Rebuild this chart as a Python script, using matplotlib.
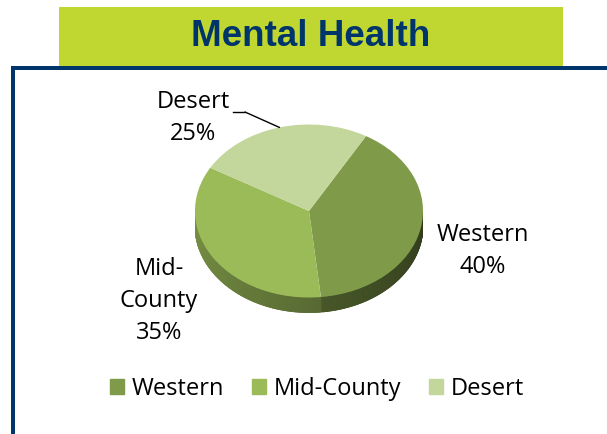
import numpy as np
import matplotlib
matplotlib.use('Agg')
import matplotlib.pyplot as plt
from matplotlib.patches import Rectangle, Patch
from matplotlib.collections import PolyCollection
from matplotlib.colors import to_rgb

# data
regions = ['Western', 'Mid-County', 'Desert']
shares = [40, 35, 25]
colors = ['#7f9a48', '#9bbb59', '#c3d69b']
title = 'Mental Health'

W, H = 607, 434
fig = plt.figure(figsize=(W / 100, H / 100), dpi=100)

# background axes in pixel coords (y down)
bg = fig.add_axes([0, 0, 1, 1])
bg.set_xlim(0, W)
bg.set_ylim(H, 0)
bg.axis('off')

# green title banner + navy frame
bg.add_patch(Rectangle((59, 7), 504, 59, color='#bfd730', lw=0))
bg.add_patch(Rectangle((11, 66), W - 11, 4, color='#00356b', lw=0))
bg.add_patch(Rectangle((11, 66), 4, H - 66, color='#00356b', lw=0))
bg.text(311, 37, title, ha='center', va='center', fontsize=26.5,
        fontweight='bold', color='#00356b', family='Liberation Sans')

# pie geometry (pixels)
cx, cy, rx, ry, depth = 309, 211, 114, 86.5, 15
d = depth / ry
ax = fig.add_axes([(cx - rx) / W, (H - (cy + ry + depth)) / H,
                   2 * rx / W, (2 * ry + depth) / H])
ax.axis('off')

fracs = np.array(shares) / sum(shares)
start = 60.0
bounds = start - 360 * np.concatenate([[0], np.cumsum(fracs)])

# side of the pie (front half only), shaded darker towards the right
polys, cols = [], []
for i in range(len(shares)):
    a0, a1 = bounds[i + 1], bounds[i]
    base = np.array(to_rgb(colors[i]))
    for lo in np.arange(a0, a1, 1.0):
        hi = min(lo + 1.6, a1)
        m = ((lo + hi) / 2) % 360
        if m < 178:
            continue
        t = (m - 180) / 180
        shade = 0.78 - 0.40 * t
        th = np.radians([lo, hi])
        xs = np.cos(th)
        ys = np.sin(th)
        polys.append([(xs[0], ys[0]), (xs[1], ys[1]),
                      (xs[1], ys[1] - d), (xs[0], ys[0] - d)])
        cols.append(np.clip(base * shade, 0, 1))
ax.add_collection(PolyCollection(polys, facecolors=cols, edgecolors=cols,
                                 linewidths=0.6))

ax.pie(shares, colors=colors, startangle=start, counterclock=False,
       wedgeprops=dict(linewidth=0))
ax.set_aspect('auto')
ax.set_xlim(-1, 1)
ax.set_ylim(-1 - d, 1)

# labels
lab_font = dict(fontsize=17, family='Open Sans', ha='center', va='center',
                linespacing=1.45)
bg.text(193, 118, f'{regions[2]}\n{shares[2]}%', **lab_font)
bg.text(483, 251, f'{regions[0]}\n{shares[0]}%', **lab_font)
bg.text(159, 301, f'Mid-\nCounty\n{shares[1]}%', **lab_font)

# leader line for Desert
mid = np.radians((bounds[2] + bounds[3]) / 2)
bg.plot([233, 245], [112, 112], color='black', lw=1)
ax.annotate('', xy=(np.cos(mid), np.sin(mid)), xytext=(245, 112),
            textcoords=bg.transData,
            arrowprops=dict(arrowstyle='-', color='black', lw=1,
                            shrinkA=0, shrinkB=0))

# legend
handles = [Patch(color=c, label=r) for c, r in zip(colors, regions)]
fig.legend(handles=handles, ncol=3, loc='center',
           bbox_to_anchor=(317 / W, 1 - 389 / H), frameon=False,
           prop=dict(family='Open Sans', size=17),
           handlelength=0.6, handleheight=0.6, handletextpad=0.35,
           columnspacing=1.15)

fig.savefig('out.png', dpi=100)
